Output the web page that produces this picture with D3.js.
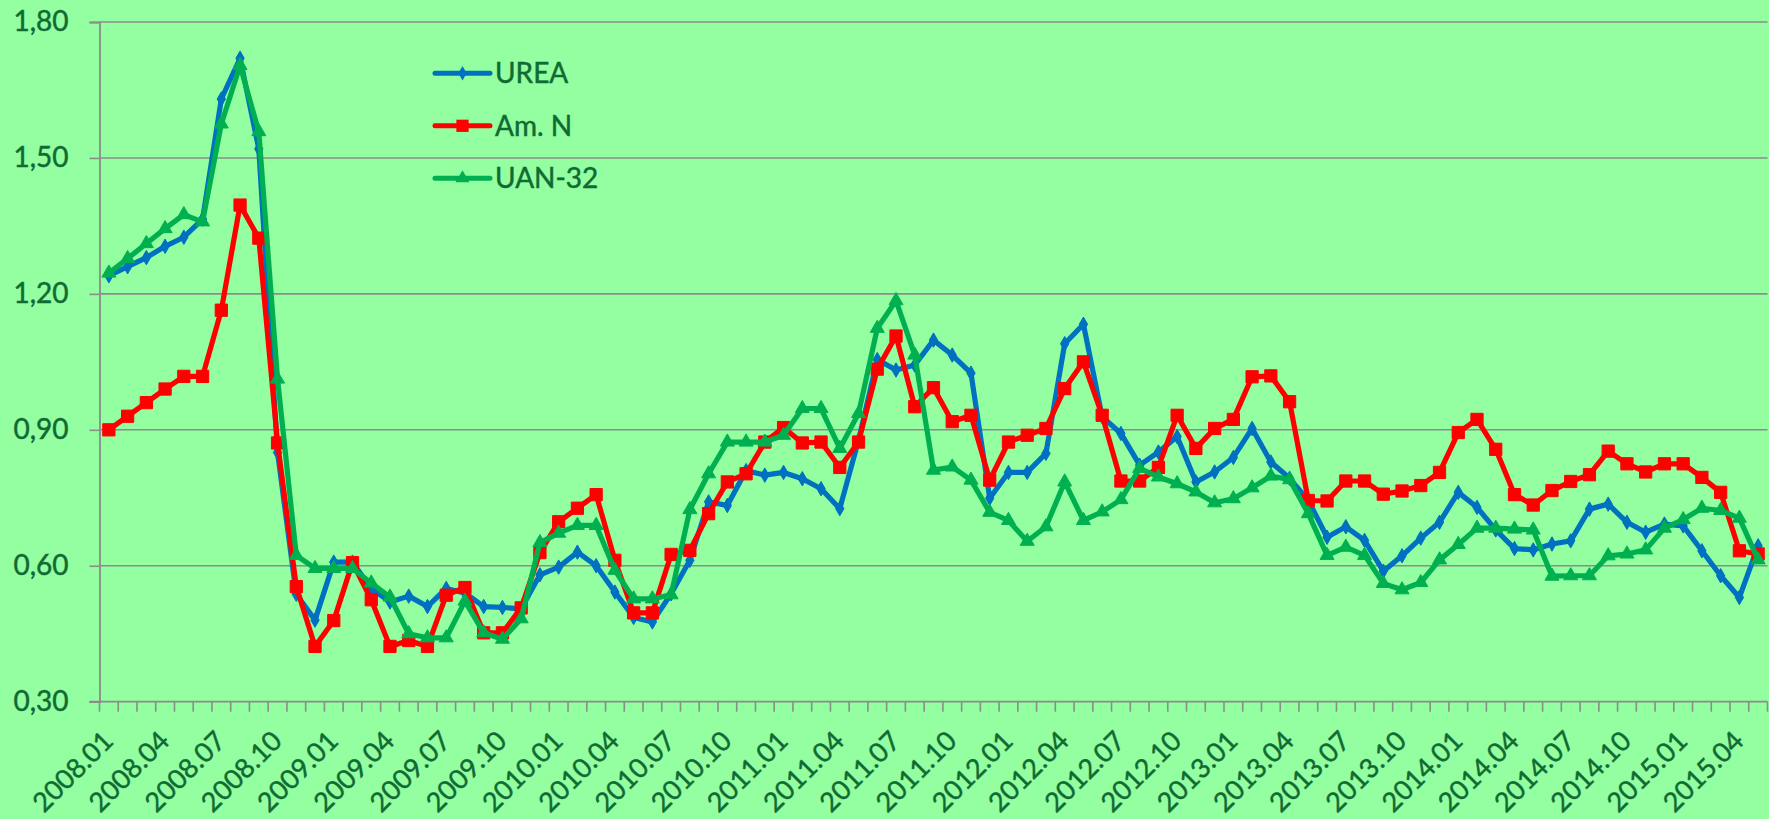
<!DOCTYPE html>
<html>
<head>
<meta charset="utf-8">
<script src="https://cdn.jsdelivr.net/npm/d3@7"></script>
<style>
html,body{margin:0;padding:0;background:#93FFA0;}
svg{display:block;}
text{font-family:Lato,"Open Sans",sans-serif;fill:#0f6a33;stroke:#0f6a33;stroke-width:0.45px;}
</style>
</head>
<body>
<svg id="chart" width="1769" height="819"></svg>
<script>
const categories = [
"2008.01","2008.02","2008.03","2008.04","2008.05","2008.06","2008.07","2008.08","2008.09","2008.10","2008.11","2008.12",
"2009.01","2009.02","2009.03","2009.04","2009.05","2009.06","2009.07","2009.08","2009.09","2009.10","2009.11","2009.12",
"2010.01","2010.02","2010.03","2010.04","2010.05","2010.06","2010.07","2010.08","2010.09","2010.10","2010.11","2010.12",
"2011.01","2011.02","2011.03","2011.04","2011.05","2011.06","2011.07","2011.08","2011.09","2011.10","2011.11","2011.12",
"2012.01","2012.02","2012.03","2012.04","2012.05","2012.06","2012.07","2012.08","2012.09","2012.10","2012.11","2012.12",
"2013.01","2013.02","2013.03","2013.04","2013.05","2013.06","2013.07","2013.08","2013.09","2013.10","2013.11","2013.12",
"2014.01","2014.02","2014.03","2014.04","2014.05","2014.06","2014.07","2014.08","2014.09","2014.10","2014.11","2014.12",
"2015.01","2015.02","2015.03","2015.04","2015.05"
];
const tickLabels = ["2008.01","2008.04","2008.07","2008.10","2009.01","2009.04","2009.07","2009.10",
"2010.01","2010.04","2010.07","2010.10","2011.01","2011.04","2011.07","2011.10","2012.01","2012.04",
"2012.07","2012.10","2013.01","2013.04","2013.07","2013.10","2014.01","2014.04","2014.07","2014.10",
"2015.01","2015.04"];
const yTicks = [0.30,0.60,0.90,1.20,1.50,1.80];
const seriesNames = ["UREA","Am. N","UAN-32"];

const urea = [
1.24,1.26,1.28,1.305,1.325,1.365,1.63,1.72,1.52,0.85,
0.537,0.48,0.608,0.608,0.55,0.52,0.533,0.51,0.55,0.54,
0.51,0.508,0.505,0.58,0.597,0.63,0.60,0.542,0.486,0.476,
0.538,0.612,0.741,0.733,0.81,0.80,0.806,0.792,0.77,0.726,
0.877,1.055,1.032,1.043,1.098,1.065,1.025,0.749,0.806,0.806,
0.848,1.09,1.133,0.929,0.892,0.822,0.851,0.885,0.785,0.807,
0.839,0.903,0.829,0.793,0.744,0.663,0.686,0.656,0.588,0.622,
0.661,0.696,0.762,0.729,0.679,0.638,0.635,0.648,0.655,0.725,
0.736,0.696,0.674,0.692,0.688,0.633,0.578,0.53,0.644];
const amN = [
0.90,0.93,0.96,0.99,1.018,1.018,1.164,1.396,1.323,0.871,
0.554,0.422,0.479,0.607,0.525,0.422,0.435,0.422,0.535,0.552,
0.452,0.452,0.507,0.629,0.697,0.727,0.757,0.612,0.496,0.496,
0.625,0.634,0.715,0.785,0.803,0.873,0.905,0.871,0.873,0.817,
0.873,1.034,1.107,0.951,0.993,0.918,0.932,0.789,0.873,0.888,
0.903,0.991,1.05,0.932,0.787,0.787,0.817,0.932,0.859,0.903,
0.923,1.017,1.019,0.962,0.744,0.743,0.787,0.787,0.758,0.765,
0.777,0.806,0.894,0.923,0.857,0.757,0.734,0.766,0.786,0.801,
0.853,0.825,0.807,0.825,0.825,0.795,0.762,0.633,0.626];
const uan32 = [
1.246,1.278,1.311,1.344,1.375,1.359,1.575,1.704,1.558,1.012,
0.623,0.594,0.594,0.594,0.562,0.531,0.45,0.441,0.441,0.522,
0.452,0.438,0.483,0.651,0.672,0.689,0.689,0.59,0.527,0.527,
0.536,0.724,0.803,0.873,0.873,0.873,0.888,0.947,0.947,0.859,
0.936,1.124,1.185,1.065,0.811,0.818,0.789,0.718,0.70,0.654,
0.686,0.785,0.70,0.719,0.746,0.815,0.796,0.781,0.763,0.739,
0.748,0.772,0.798,0.79,0.715,0.623,0.641,0.623,0.561,0.547,
0.563,0.613,0.647,0.683,0.683,0.681,0.679,0.577,0.578,0.578,
0.622,0.626,0.635,0.683,0.702,0.727,0.722,0.705,0.613];

const series = [
  {name: seriesNames[0], values: urea, color: "#0070C0", marker: "diamond"},
  {name: seriesNames[1], values: amN, color: "#FF0000", marker: "square"},
  {name: seriesNames[2], values: uan32, color: "#00B050", marker: "triangle"}
];

const svg = d3.select("#chart");
const plotL = 99.5, plotR = 1767.5, plotT = 22, plotB = 701.7;
const gridColor = "#8c8c8c";

const x = d3.scaleBand().domain(categories).range([plotL, plotR]).paddingInner(0).paddingOuter(0);
const y = d3.scaleLinear().domain([0.30, 1.80]).range([plotB, plotT]);
const cx = d => x(d) + x.bandwidth() / 2;

// gridlines
svg.append("g").selectAll("line").data(yTicks.slice(1)).join("line")
  .attr("x1", plotL).attr("x2", plotR)
  .attr("y1", d => y(d)).attr("y2", d => y(d))
  .attr("stroke", gridColor).attr("stroke-width", 1.6);

// y axis
const yAxis = d3.axisLeft(y).tickValues(yTicks).tickSize(10).tickPadding(21)
  .tickFormat(d => d3.format(".2f")(d).replace(".", ","));
const yg = svg.append("g").attr("transform", `translate(${plotL},0)`).call(yAxis);
yg.select(".domain").attr("stroke", gridColor).attr("stroke-width", 1.8);
yg.selectAll(".tick line").attr("stroke", gridColor).attr("stroke-width", 1.6);
yg.selectAll(".tick text").attr("font-size", 28).attr("fill", "#0f6a33")
  .attr("font-family", "Lato, sans-serif");

// x axis line + ticks at band boundaries
const xg = svg.append("g");
xg.append("line").attr("x1", plotL - 10).attr("x2", plotR).attr("y1", plotB).attr("y2", plotB)
  .attr("stroke", gridColor).attr("stroke-width", 1.8);
const boundaries = categories.map(c => x(c)).concat([x(categories[categories.length - 1]) + x.bandwidth()]);
xg.selectAll("line.tk").data(boundaries).join("line").attr("class", "tk")
  .attr("x1", d => d).attr("x2", d => d).attr("y1", plotB).attr("y2", plotB + 10)
  .attr("stroke", gridColor).attr("stroke-width", 1.6);
xg.selectAll("text").data(tickLabels).join("text")
  .attr("transform", d => `translate(${cx(d) + 6},${plotB + 41}) rotate(-45)`)
  .attr("text-anchor", "end")
  .attr("font-size", 27)
  .text(d => d);

// lines
const line = d3.line().x((d, i) => cx(categories[i])).y(d => y(d));
function markerPath(type) {
  if (type === "diamond") return d3.symbol().type(d3.symbolDiamond).size(60)();
  if (type === "square") return d3.symbol().type(d3.symbolSquare).size(150)();
  return d3.symbol().type(d3.symbolTriangle).size(85)();
}
series.forEach(s => {
  const g = svg.append("g");
  g.append("path").datum(s.values).attr("d", line)
    .attr("fill", "none").attr("stroke", s.color).attr("stroke-width", 5.2)
    .attr("stroke-linejoin", "round").attr("stroke-linecap", "round");
  g.selectAll("path.m").data(s.values).join("path").attr("class", "m")
    .attr("d", markerPath(s.marker))
    .attr("transform", (d, i) => `translate(${cx(categories[i])},${y(d)})`)
    .attr("fill", s.color).attr("stroke", s.color).attr("stroke-width", 1);
});

// legend
const leg = svg.append("g");
series.forEach((s, i) => {
  const ly = 73.3 + i * 52.5;
  leg.append("line").attr("x1", 435).attr("x2", 490).attr("y1", ly).attr("y2", ly)
    .attr("stroke", s.color).attr("stroke-width", 5).attr("stroke-linecap", "round");
  leg.append("path").attr("d", markerPath(s.marker))
    .attr("transform", `translate(462.5,${ly})`).attr("fill", s.color);
  leg.append("text").attr("x", 495).attr("y", ly).attr("dy", "0.36em")
    .attr("font-size", 28).text(s.name);
});
</script>
</body>
</html>
